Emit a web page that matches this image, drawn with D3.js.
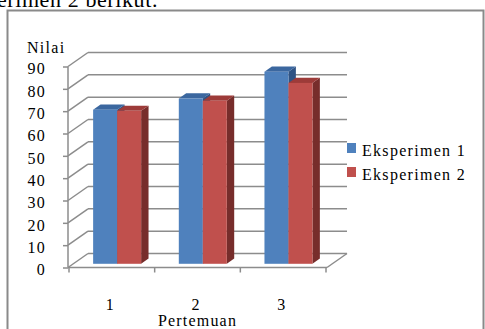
<!DOCTYPE html>
<html>
<head>
<meta charset="utf-8">
<script src="https://cdn.jsdelivr.net/npm/d3@7"></script>
<style>
  html, body { margin: 0; padding: 0; background: #ffffff; }
  svg { display: block; }
  text { font-family: "Liberation Serif", "Times New Roman", serif; fill: #000; }
</style>
</head>
<body>
<div id="chart"></div>
<script>
// Nilai rata-rata per pertemuan
const categories = ["1", "2", "3"];
const seriesNames = ["Eksperimen 1", "Eksperimen 2"];
const eksperimen1 = [69, 74, 86];
const eksperimen2 = [68.5, 73, 81];
const yTicks = [0, 10, 20, 30, 40, 50, 60, 70, 80, 90];
const colors = {
  "Eksperimen 1": { front: "#4f81bd", top: "#3b679f", side: "#2f5384" },
  "Eksperimen 2": { front: "#c0504d", top: "#9d3b39", side: "#772d2b" }
};

const W = 485, H = 329;
const svg = d3.select("#chart").append("svg").attr("width", W).attr("height", H);

// caption line above the chart box (runs off the left edge)
svg.append("text")
  .attr("x", 158).attr("y", 7)
  .attr("text-anchor", "end")
  .style("font-size", "22px").style("letter-spacing", "0.6px")
  .text("eksperimen 2 berikut.");

// chart frame
svg.append("rect")
  .attr("x", 7.5).attr("y", 10.5).attr("width", 476).attr("height", 340)
  .attr("fill", "none").attr("stroke", "#8a8a8a").attr("stroke-width", 2);

// 3D projection: front plane plus an oblique depth vector
const depth = { dx: 20, dy: -14 };
const y = d3.scaleLinear().domain([0, 90]).range([267.5, 66.5]);
const x0 = d3.scaleBand().domain(categories).range([69, 326]);
const barW = 24;
const x1 = d3.scaleBand().domain(seriesNames).range([0, barW * 2]);
const barFront = 0.265;   // depth fraction of the bars' front faces
const barDepth = 0.37;    // depth fraction occupied by each bar

const gridColor = "#8c8c8c";
const g = svg.append("g");

// left wall diagonals and back wall gridlines
yTicks.forEach(v => {
  const yf = y(v);
  g.append("line")
    .attr("x1", x0.range()[0] - 1).attr("y1", yf)
    .attr("x2", x0.range()[0] - 1 + depth.dx).attr("y2", yf + depth.dy)
    .attr("stroke", gridColor).attr("stroke-width", 1.5);
  g.append("line")
    .attr("x1", x0.range()[0] - 1 + depth.dx).attr("y1", yf + depth.dy)
    .attr("x2", x0.range()[1] + 1 + depth.dx).attr("y2", yf + depth.dy)
    .attr("stroke", gridColor).attr("stroke-width", 1.5);
});
// floor right edge
g.append("line")
  .attr("x1", x0.range()[1] + 1).attr("y1", y(0))
  .attr("x2", x0.range()[1] + 1 + depth.dx).attr("y2", y(0) + depth.dy)
  .attr("stroke", gridColor).attr("stroke-width", 1.5);

// bars
const rows = categories.map((c, i) => ({
  cat: c,
  values: [
    { name: seriesNames[0], value: eksperimen1[i] },
    { name: seriesNames[1], value: eksperimen2[i] }
  ]
}));

const offX = depth.dx * barFront, offY = depth.dy * barFront;
const bdx = depth.dx * barDepth, bdy = depth.dy * barDepth;

rows.forEach(row => {
  const bandStart = x0(row.cat) + (x0.bandwidth() - barW * 2) / 2;
  row.values.forEach(d => {
    const c = colors[d.name];
    const xl = bandStart + x1(d.name) + offX;
    const xr = xl + barW;
    const yt = y(d.value) + offY;
    const yb = y(0) + offY;
    // side face
    g.append("polygon")
      .attr("points", [[xr, yt], [xr + bdx, yt + bdy], [xr + bdx, yb + bdy], [xr, yb]].join(" "))
      .attr("fill", c.side);
    // top face
    g.append("polygon")
      .attr("points", [[xl, yt], [xr, yt], [xr + bdx, yt + bdy], [xl + bdx, yt + bdy]].join(" "))
      .attr("fill", c.top);
    // front face
    g.append("rect")
      .attr("x", xl).attr("y", yt).attr("width", barW).attr("height", yb - yt)
      .attr("fill", c.front);
  });
});

// value axis (front edge of the left wall)
const yAxis = svg.append("g").attr("transform", `translate(${x0.range()[0] - 1},0)`)
  .call(d3.axisLeft(y).tickValues(yTicks).tickSize(5).tickPadding(0).tickFormat(d3.format("d")));
yAxis.select(".domain").attr("stroke", gridColor).attr("stroke-width", 1.5).attr("d", `M0,${y(90)}V${y(0)}`);
yAxis.selectAll(".tick line").attr("stroke", gridColor).attr("stroke-width", 1.5);
yAxis.selectAll(".tick text")
  .attr("x", -22).attr("dy", "0.45em")
  .style("font-family", "'Liberation Serif', serif")
  .style("font-size", "16px").style("letter-spacing", "1.3px").attr("fill", "#000");

// category axis (front edge of the floor)
const xAxis = svg.append("g").attr("transform", `translate(0,${y(0)})`)
  .call(d3.axisBottom(x0).tickSize(0).tickPadding(0));
xAxis.select(".domain").attr("stroke", gridColor).attr("stroke-width", 1.5)
  .attr("d", `M${x0.range()[0] - 1},0H${x0.range()[1] + 1}`);
xAxis.selectAll(".tick text")
  .attr("y", 42).attr("dy", 0).attr("dx", "-2px")
  .style("font-family", "'Liberation Serif', serif")
  .style("font-size", "16px").attr("fill", "#000");
// category boundary ticks
const bounds = categories.map(c => x0(c)).concat([x0.range()[1]]);
xAxis.selectAll(".bound").data(bounds).join("line")
  .attr("class", "bound")
  .attr("x1", d => d).attr("x2", d => d).attr("y1", 0).attr("y2", 5)
  .attr("stroke", gridColor).attr("stroke-width", 1.5);

// axis titles
svg.append("text").attr("x", 27).attr("y", 53)
  .style("font-size", "16px").style("letter-spacing", "1.3px").text("Nilai");
svg.append("text").attr("x", (x0.range()[0] + x0.range()[1]) / 2).attr("y", 326)
  .attr("text-anchor", "middle")
  .style("font-size", "16px").style("letter-spacing", "1.2px").text("Pertemuan");

// legend
const legend = svg.append("g").attr("transform", "translate(347,143)");
seriesNames.forEach((name, i) => {
  const item = legend.append("g").attr("transform", `translate(0,${i * 24})`);
  item.append("rect").attr("width", 9).attr("height", 10).attr("fill", colors[name].front);
  item.append("text").attr("x", 15).attr("y", 13)
    .style("font-size", "16px").style("letter-spacing", "1.3px").text(name);
});
</script>
</body>
</html>
